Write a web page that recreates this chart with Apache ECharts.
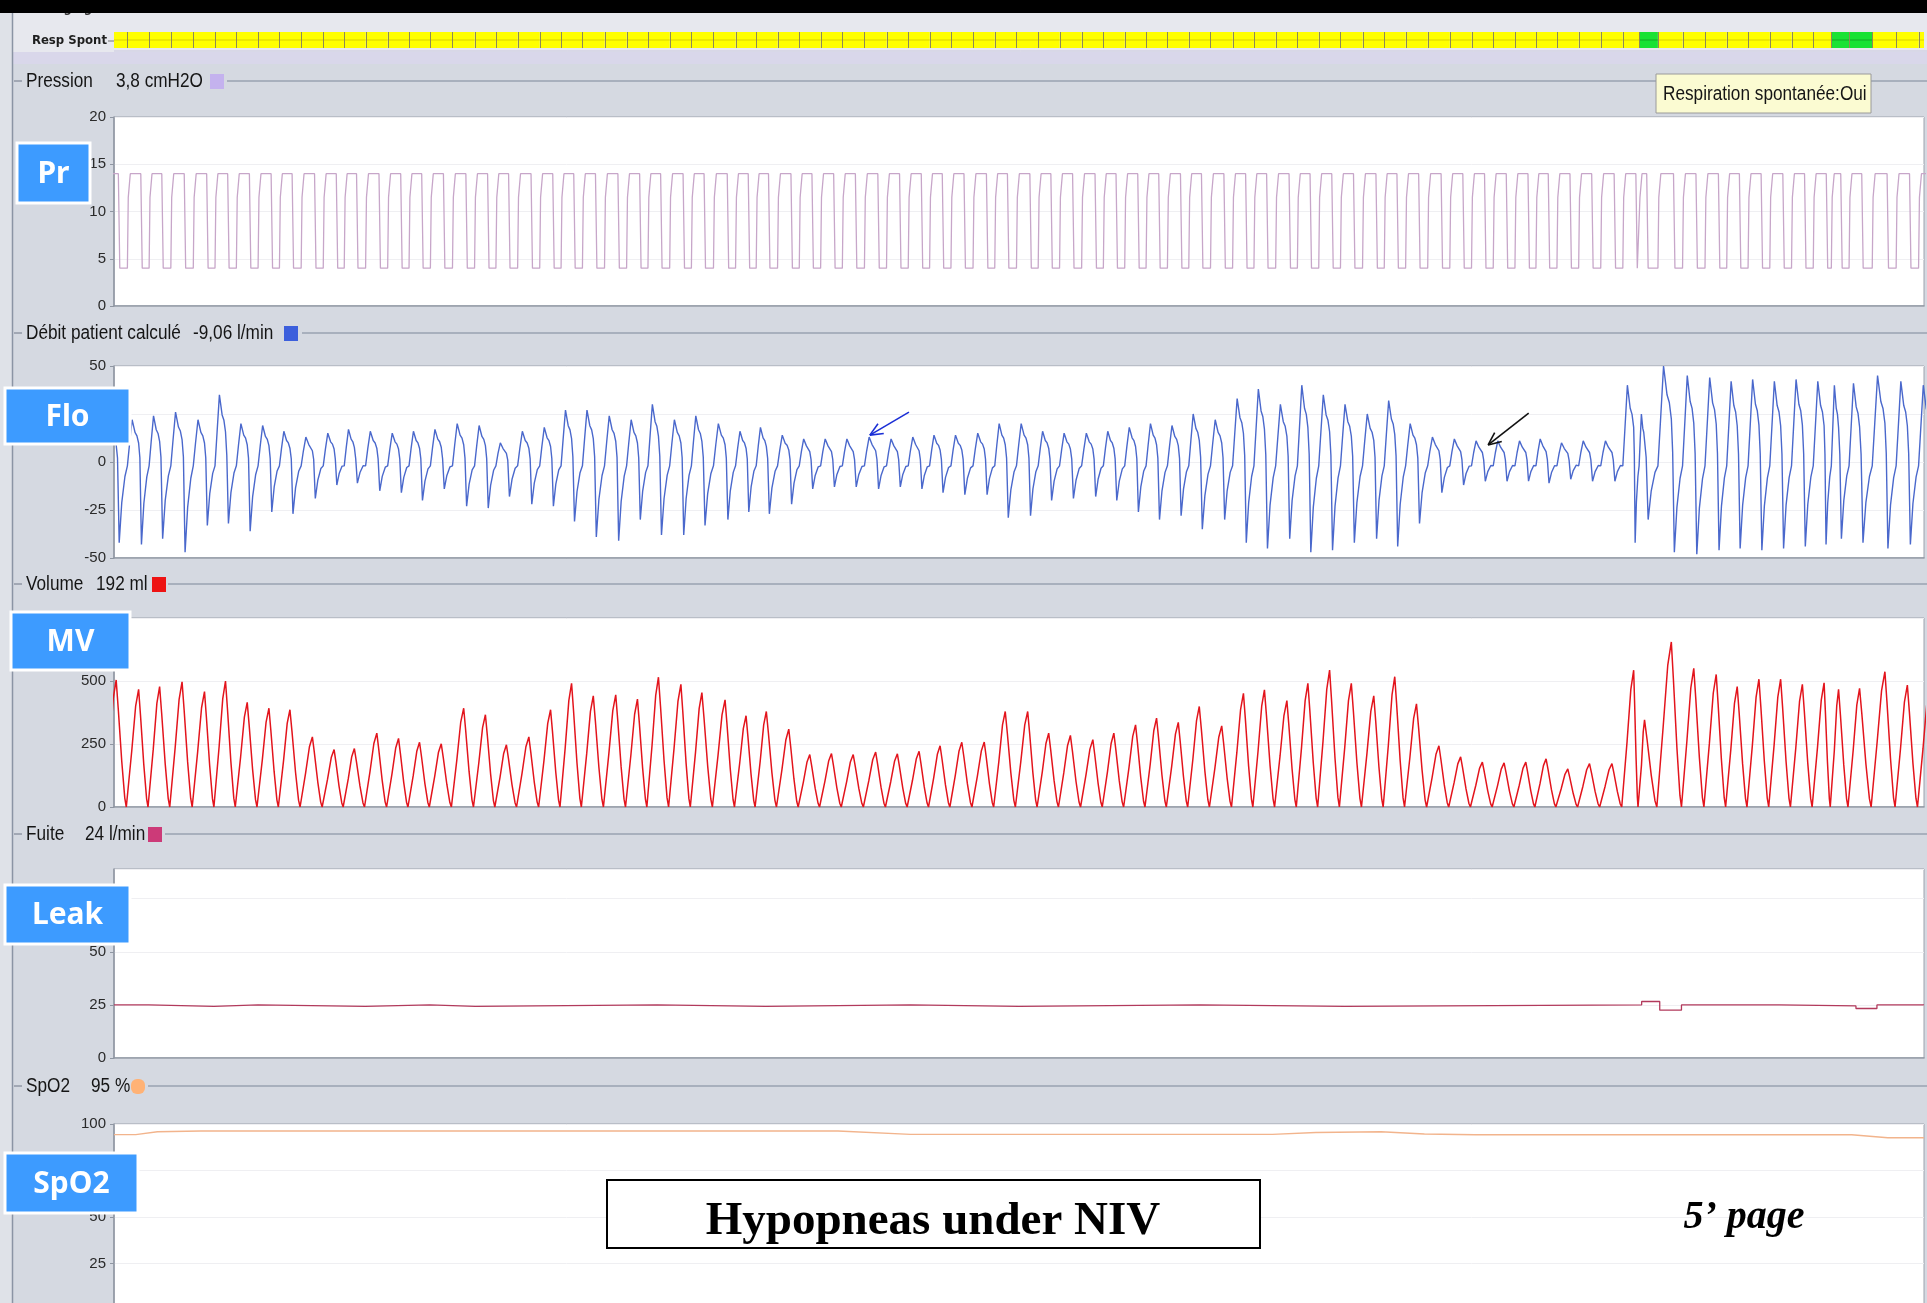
<!DOCTYPE html>
<html>
<head>
<meta charset="utf-8">
<title>Hypopneas under NIV</title>
<script src="https://cdn.jsdelivr.net/npm/echarts@6/dist/echarts.min.js"></script>
<style>
  html, body { margin: 0; padding: 0; background: #d5d9e1; }
  #chart { width: 1927px; height: 1303px; }
</style>
</head>
<body>
<div id="chart"></div>
<script>
// ---------------- recording data (time in seconds) ----------------
const timeSpan = [0, 250];

// time of end-inspiration (volume peak) of each breath
const breathPeakTime = [
  0.3, 3.4, 6.3, 9.4, 12.5, 15.4, 18.4, 21.4, 24.3, 27.4,
  30.4, 33.2, 36.3, 39.3, 42.2, 45.2, 48.3, 51.3, 54.2, 57.3,
  60.3, 63.2, 66.2, 69.3, 72.3, 75.2, 78.3, 81.2, 84.4, 87.3,
  90.1, 93.2, 96.1, 99.1, 102.1, 105.2, 108.2, 111.2, 114.1, 117.1,
  120.2, 123.1, 126.2, 129.1, 132.1, 135.2, 138.1, 141.1, 144.0, 147.0,
  149.9, 153.0, 156.0, 158.9, 162.0, 164.9, 167.9, 170.9, 174.0, 176.9,
  179.9, 183.0, 186.0, 189.0, 192.0, 195.0, 197.8, 200.8, 203.8, 206.9,
  209.9, 211.4, 215.1, 218.2, 221.3, 224.2, 227.2, 230.2, 233.2, 236.2,
  238.2, 241.1, 244.6, 247.7, 250.8
];
// tidal volume of each breath (ml)
const breathVolume = [
  504, 467, 478, 497, 458, 500, 415, 392, 386, 278,
  228, 232, 293, 272, 257, 251, 392, 366, 247, 278,
  386, 491, 441, 445, 428, 515, 487, 454, 425, 362,
  379, 309, 208, 212, 208, 218, 211, 221, 243, 257,
  258, 379, 379, 293, 284, 267, 293, 326, 353, 336,
  399, 322, 451, 465, 422, 491, 543, 491, 441, 517,
  409, 243, 199, 178, 175, 178, 191, 151, 172, 172,
  543, 346, 655, 550, 526, 478, 507, 507, 487, 493,
  467, 471, 537, 484, 480
];
// peak inspiratory flow of each breath (l/min)
const breathInspFlow = [
  20, 22, 24, 26, 22, 35, 20, 19, 16, 13,
  15, 17, 16, 15, 16, 17, 20, 19, 10, 16,
  18, 27, 27, 24, 22, 30, 22, 24, 20, 16,
  18, 14, 12, 12, 12, 13, 12, 13, 14, 14,
  15, 20, 20, 16, 15, 15, 16, 18, 20, 19,
  25, 22, 33, 38, 30, 40, 35, 30, 25, 32,
  20, 13, 12, 11, 11, 11, 12, 10, 11, 11,
  40, 25, 50, 45, 44, 42, 43, 42, 43, 42,
  40, 41, 45, 42, 40
];
// peak expiratory flow of each breath (l/min)
const breathExpFlow = [
  -42, -43, -40, -47, -33, -32, -36, -26, -27, -19,
  -12, -11, -15, -16, -20, -14, -23, -24, -18, -22,
  -23, -31, -39, -41, -30, -38, -38, -33, -30, -26,
  -27, -22, -14, -13, -13, -14, -13, -14, -16, -17,
  -17, -29, -28, -20, -19, -18, -20, -26, -30, -28,
  -35, -30, -42, -45, -40, -47, -46, -42, -40, -44,
  -32, -16, -12, -10, -10, -10, -11, -9, -10, -10,
  -42, -30, -47, -48, -46, -45, -46, -45, -44, -43,
  -40, -42, -45, -43, -40
];
// breaths flagged as spontaneous (1-based breath number)
const spontaneousBreaths = [72, 81, 82];

// pressure levels (cmH2O): expiratory, inspiratory
const pressurePEEP = 4;
const pressureIPAP = 14;

// leak (l/min), step changes
const leakTime  = [0, 4.8, 13.8, 19.9, 34.7, 43.6, 49.9, 75, 90, 110, 125, 150, 170, 211.0, 213.5, 216.5, 230, 240.6, 243.5, 250];
const leakValue = [25, 24.3, 25, 24.3, 25, 24.3, 25, 24.3, 25, 24.3, 25, 24.3, 25, 26.6, 22.5, 25, 24.5, 23.3, 25, 25];

// SpO2 (%)
const spo2Time  = [0, 3, 6, 12, 100, 110, 160, 166, 175, 181, 188, 240, 245, 250];
const spo2Value = [94.3, 94.3, 95.8, 96.2, 96.2, 94.4, 94.4, 95.4, 95.8, 94.6, 94.2, 94.2, 92.6, 92.6];

// annotation arrows on the flow trace: [tailTime, tailFlow, headTime, headFlow]
const flowArrows = [
  [109.8, 26, 104.4, 14],
  [195.4, 25.5, 189.8, 8.9]
];
const flowArrowColors = ['#1b2fd6', '#111111'];

// channel header readouts
const channelNames  = ['Pression', 'Débit patient calculé', 'Volume', 'Fuite', 'SpO2'];
const channelValues = ['3,8 cmH2O', '-9,06 l/min', '192 ml', '24 l/min', '95 %'];
const channelTags   = ['Pr', 'Flo', 'MV', 'Leak', 'SpO2'];

// ---------------- breath waveforms built from the readings ----------------
const n = breathPeakTime.length;
const onset = breathPeakTime.map((t, i) => i === 0 ? t - 1.5 : (breathPeakTime[i - 1] + t) / 2);
const nextOnset = onset.map((t, i) => i === n - 1 ? breathPeakTime[i] + 1.5 : onset[i + 1]);

const pressureData = [], flowData = [], volumeData = [];
for (let i = 0; i < n; i++) {
  const on = onset[i], tp = breathPeakTime[i], nx = nextOnset[i];
  const r = tp - on, e = nx - tp;
  const V = breathVolume[i], Fi = breathInspFlow[i], Fe = breathExpFlow[i];
  // pressure: rise at onset, hold, release just after end-inspiration
  pressureData.push([on, pressurePEEP], [on + 0.12, pressurePEEP + 0.75 * (pressureIPAP - pressurePEEP)],
    [on + 0.4, pressureIPAP], [tp + 0.3, pressureIPAP], [tp + 0.5, pressurePEEP]);
  // flow
  flowData.push([on, -2], [on + 0.2 * r, 0.45 * Fi], [on + 0.42 * r, Fi], [on + 0.68 * r, 0.7 * Fi],
    [on + 0.85 * r, 0.62 * Fi], [tp, 0.45 * Fi], [tp + 0.12 * e, 0.1 * Fi], [tp + 0.27 * e, Fe],
    [tp + 0.5 * e, 0.5 * Fe], [tp + 0.78 * e, 0.18 * Fe]);
  // volume
  const ri = r - 0.1, d = e - 0.15;
  volumeData.push([on + 0.1, 0], [on + 0.1 + 0.35 * ri, 0.48 * V], [on + 0.1 + 0.72 * ri, 0.86 * V], [tp, V],
    [tp + 0.2 * d, 0.78 * V], [tp + 0.55 * d, 0.36 * V], [tp + 0.85 * d, 0.07 * V], [tp + d, 0]);
}
const respSpontData = onset.map((t, i) => [t, nextOnset[i], spontaneousBreaths.includes(i + 1) ? 1 : 0]);
const leakData = leakTime.map((t, i) => [t, leakValue[i]]);
const spo2Data = spo2Time.map((t, i) => [t, spo2Value[i]]);

// ---------------- layout & styling ----------------
const SANS = "'Liberation Sans', Arial, sans-serif";
const TAG_FONT = "'Noto Sans', 'DejaVu Sans', sans-serif";
const NARROW_SCALE = 0.86;
const plotLeft = 114, plotRight = 3;
const gridBoxes = [
  { top: 32, height: 16 },     // Resp Spont
  { top: 117, height: 189 },   // pressure
  { top: 366, height: 192 },   // flow
  { top: 618, height: 189 },   // volume
  { top: 869, height: 189 },   // leak
  { top: 1124, height: 186 }   // SpO2 (runs past the bottom edge)
];
const yRanges = [
  { min: 0, max: 1 },
  { min: 0, max: 20, interval: 5 },
  { min: -50, max: 50, interval: 25 },
  { min: 0, max: 750, interval: 250, hideMax: true },
  { min: 0, max: 89, interval: 25, hideMax: true },
  { min: 0, max: 100, interval: 25 }
];

const grids = gridBoxes.map((g, i) => ({
  left: plotLeft, right: plotRight, top: g.top, height: g.height,
  outerBoundsMode: 'none', containLabel: false,
  show: i > 0, backgroundColor: '#ffffff', borderColor: '#9ca2ad', borderWidth: 1
}));
const xAxes = gridBoxes.map((g, i) => ({
  gridIndex: i, type: 'value', min: timeSpan[0], max: timeSpan[1], show: i > 0,
  axisLine: { show: true, onZero: false, lineStyle: { color: '#8f96a2', width: 1.5 } },
  axisTick: { show: false }, axisLabel: { show: false }, splitLine: { show: false }
}));
const yAxes = yRanges.map((r, i) => ({
  gridIndex: i, type: 'value', min: r.min, max: r.max, interval: r.interval, show: i > 0,
  axisLine: { show: true, lineStyle: { color: '#8f96a2', width: 1.5 } },
  axisTick: { show: true, length: 4, lineStyle: { color: '#8f96a2' } },
  axisLabel: { color: '#2a2a2a', fontSize: 15, fontFamily: SANS, margin: 8, showMaxLabel: !r.hideMax },
  splitLine: { show: true, lineStyle: { color: '#efeff2', width: 1 } }
}));

const series = [
  {
    name: 'Resp Spont', type: 'custom', xAxisIndex: 0, yAxisIndex: 0, clip: true,
    data: respSpontData,
    renderItem(params, api) {
      const p0 = api.coord([api.value(0), 1]);
      const p1 = api.coord([api.value(1), 0]);
      const spont = api.value(2) === 1;
      return {
        type: 'group', children: [
          { type: 'rect', shape: { x: p0[0], y: p0[1], width: p1[0] - p0[0], height: p1[1] - p0[1] },
            style: { fill: spont ? '#19e234' : '#ffff00' } },
          { type: 'line', shape: { x1: p0[0], y1: (p0[1] + p1[1]) / 2, x2: p1[0], y2: (p0[1] + p1[1]) / 2 },
            style: { stroke: spont ? '#12a826' : '#d9d200', lineWidth: 1 } },
          { type: 'line', shape: { x1: Math.round(p0[0]) + 0.5, y1: p0[1] - 1, x2: Math.round(p0[0]) + 0.5, y2: p1[1] + 1 },
            style: { stroke: '#8d8a55', lineWidth: 1 } }
        ]
      };
    }
  },
  { name: 'Pression', type: 'line', xAxisIndex: 1, yAxisIndex: 1, data: pressureData, symbol: 'none',
    lineStyle: { color: '#c7a6c9', width: 1.3 }, animation: false },
  { name: 'Débit', type: 'line', xAxisIndex: 2, yAxisIndex: 2, data: flowData, symbol: 'none',
    lineStyle: { color: '#4a68cc', width: 1.4 }, animation: false },
  {
    name: 'Flèches', type: 'custom', xAxisIndex: 2, yAxisIndex: 2, data: flowArrows, z: 5,
    renderItem(params, api) {
      const t = api.coord([api.value(0), api.value(1)]);
      const h = api.coord([api.value(2), api.value(3)]);
      const ang = Math.atan2(t[1] - h[1], t[0] - h[0]);
      const L = 14, spread = 0.42;
      const c = flowArrowColors[params.dataIndex];
      const s = { stroke: c, lineWidth: 1.6 };
      return { type: 'group', children: [
        { type: 'line', shape: { x1: t[0], y1: t[1], x2: h[0], y2: h[1] }, style: s },
        { type: 'line', shape: { x1: h[0], y1: h[1], x2: h[0] + L * Math.cos(ang + spread), y2: h[1] + L * Math.sin(ang + spread) }, style: s },
        { type: 'line', shape: { x1: h[0], y1: h[1], x2: h[0] + L * Math.cos(ang - spread), y2: h[1] + L * Math.sin(ang - spread) }, style: s }
      ] };
    }
  },
  { name: 'Volume', type: 'line', xAxisIndex: 3, yAxisIndex: 3, data: volumeData, symbol: 'none',
    lineStyle: { color: '#e3141c', width: 1.5 }, animation: false },
  { name: 'Fuite', type: 'line', step: 'end', xAxisIndex: 4, yAxisIndex: 4, data: leakData, symbol: 'none',
    lineStyle: { color: '#b23a5c', width: 1.3 }, animation: false },
  { name: 'SpO2', type: 'line', xAxisIndex: 5, yAxisIndex: 5, data: spo2Data, symbol: 'none',
    lineStyle: { color: '#f2b48c', width: 1.4 }, animation: false }
];

// ---------------- panel chrome (header rows, tags, captions) ----------------
const headerRows = [
  { y: 81,   valueX: 116, sq: [210, 74], sqColor: '#c4b2ee', lineFrom: 227 },
  { y: 333,  valueX: 193, sq: [284, 326], sqColor: '#3c5fdc', lineFrom: 302 },
  { y: 584,  valueX: 96,  sq: [152, 577], sqColor: '#ee1313', lineFrom: 168 },
  { y: 834,  valueX: 85,  sq: [148, 827], sqColor: '#cc3a78', lineFrom: 165 },
  { y: 1086, valueX: 91,  sq: [131, 1079], sqColor: '#ffb275', lineFrom: 148 }
];
const tagBoxes = [
  { x: 17, y: 143, w: 73, h: 60 },
  { x: 5, y: 388, w: 125, h: 56 },
  { x: 11, y: 612, w: 119, h: 58 },
  { x: 5, y: 885, w: 125, h: 59 },
  { x: 5, y: 1153, w: 133, h: 60 }
];

function narrowText(x, y, text, size, extra) {
  return Object.assign({ type: 'text', z: 20, x: x, y: y, scaleX: NARROW_SCALE,
    style: { text: text, font: size + 'px ' + SANS, fill: '#151515', verticalAlign: 'middle' } }, extra || {});
}

const graphic = [];
// background panels
graphic.push({ type: 'rect', z: -10, shape: { x: 0, y: 0, width: 12, height: 1303 }, style: { fill: '#dfe2e8' } });
graphic.push({ type: 'rect', z: -10, shape: { x: 13, y: 13, width: 1914, height: 39 }, style: { fill: '#e7e8ee' } });
graphic.push({ type: 'rect', z: -10, shape: { x: 13, y: 52, width: 1914, height: 12 }, style: { fill: '#d9d7ea' } });
graphic.push({ type: 'line', z: -9, shape: { x1: 12.5, y1: 13, x2: 12.5, y2: 1303 }, style: { stroke: '#8b94a4', lineWidth: 1.5 } });
graphic.push({ type: 'line', z: -9, shape: { x1: 114, y1: 51, x2: 1927, y2: 51 }, style: { stroke: '#c9c7df', lineWidth: 1 } });

// Resp Spont row label
graphic.push({ type: 'text', z: 50, x: 107, y: 41, style: { text: 'Resp Spont', font: "bold 13px 'DejaVu Sans Condensed', 'DejaVu Sans', sans-serif", fill: '#1e1e1e', align: 'right', verticalAlign: 'middle' } });
graphic.push({ type: 'line', z: 50, shape: { x1: 108, y1: 41, x2: 114, y2: 41 }, style: { stroke: '#777', lineWidth: 1 } });
graphic.push({ type: 'text', z: 50, x: 107, y: 9, style: { text: 'Réglages', font: "bold 13px 'DejaVu Sans Condensed', 'DejaVu Sans', sans-serif", fill: '#333', align: 'right', verticalAlign: 'middle' } });

// channel headers
headerRows.forEach((h, i) => {
  graphic.push({ type: 'line', z: 20, shape: { x1: 14, y1: h.y, x2: 22, y2: h.y }, style: { stroke: '#6e7787', lineWidth: 1 } });
  graphic.push(narrowText(26, h.y, channelNames[i], 20));
  graphic.push(narrowText(h.valueX, h.y, channelValues[i], 20));
  graphic.push({ type: 'rect', z: 20, shape: { x: h.sq[0], y: h.sq[1], width: 14, height: 15, r: i === 4 ? 6 : 0 }, style: { fill: h.sqColor } });
  graphic.push({ type: 'line', z: 20, shape: { x1: h.lineFrom, y1: h.y, x2: 1927, y2: h.y }, style: { stroke: '#7c889a', lineWidth: 1.2 } });
});

// tag boxes
tagBoxes.forEach((b, i) => {
  graphic.push({ type: 'rect', z: 60, shape: { x: b.x, y: b.y, width: b.w, height: b.h }, style: { fill: '#3d9bff', stroke: '#ffffff', lineWidth: 3 } });
  graphic.push({ type: 'text', z: 61, x: b.x + b.w / 2, y: b.y + b.h / 2 + 1, style: { text: channelTags[i], font: 'bold 30px ' + TAG_FONT, fill: '#ffffff', align: 'center', verticalAlign: 'middle' } });
});

// status tooltip
graphic.push({ type: 'rect', z: 70, shape: { x: 1656, y: 74, width: 215, height: 39 }, style: { fill: '#fbfbd2', stroke: '#9a9a9a', lineWidth: 1 } });
graphic.push(narrowText(1663, 94, 'Respiration spontanée:Oui', 20, { z: 71, scaleX: 0.86 }));

// caption
graphic.push({ type: 'rect', z: 80, shape: { x: 607, y: 1180, width: 653, height: 68 }, style: { fill: '#ffffff', stroke: '#000000', lineWidth: 2 } });
graphic.push({ type: 'text', z: 81, x: 933, y: 1222, style: { text: 'Hypopneas under NIV', font: "bold 47px 'Liberation Serif', 'DejaVu Serif', serif", fill: '#000', align: 'center', verticalAlign: 'middle' } });
graphic.push({ type: 'text', z: 81, x: 1744, y: 1218, style: { text: '5\u2019 page', font: "italic bold 40px 'Liberation Serif', 'DejaVu Serif', serif", fill: '#000', align: 'center', verticalAlign: 'middle' } });

// top black band
graphic.push({ type: 'rect', z: 200, shape: { x: 0, y: 0, width: 1927, height: 13 }, style: { fill: '#000000' } });

const chart = echarts.init(document.getElementById('chart'), null, { renderer: 'canvas' });
chart.setOption({
  animation: false,
  backgroundColor: '#d5d9e1',
  grid: grids,
  xAxis: xAxes,
  yAxis: yAxes,
  series: series,
  graphic: graphic
});
</script>
</body>
</html>
